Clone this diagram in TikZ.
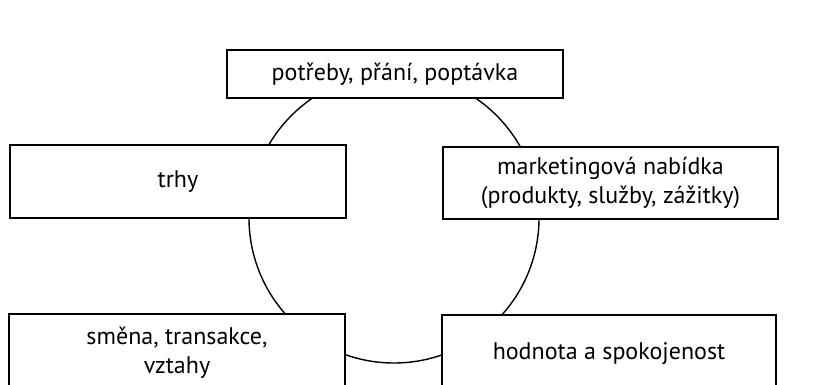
\documentclass[tikz,border=0pt]{standalone}
\usepackage{fontspec}
\setmainfont{PT Sans}
\begin{document}
\begin{tikzpicture}[x=1pt,y=-1pt,
  box/.style={draw=black, line width=1.6pt, fill=white, inner sep=0pt,
    align=center, font=\fontsize{24}{29}\selectfont, text=black},
  ring/.style={draw=black, line width=1.4pt, circle, inner sep=0pt, minimum size=290pt}]
\useasboundingbox (0,0) rectangle (816,385);
\clip (0,0) rectangle (816,385);
\node[ring] (cyc) at (394,218) {};
\node[box, minimum width=336pt, minimum height=48pt] (need) at (395,74) {potřeby, přání, poptávka};
\node[box, minimum width=336pt, minimum height=73pt] (mkt) at (178,181.5) {trhy};
\node[box, minimum width=335pt, minimum height=72pt] (offer) at (610.5,183) {marketingová nabídka\\(produkty, služby, zážitky)};
\node[box, minimum width=336pt, minimum height=78pt] (exch) at (177,353) {směna, transakce,\\vztahy};
\node[box, minimum width=334pt, minimum height=78pt] (value) at (609,354) {hodnota a spokojenost};
\end{tikzpicture}
\end{document}
